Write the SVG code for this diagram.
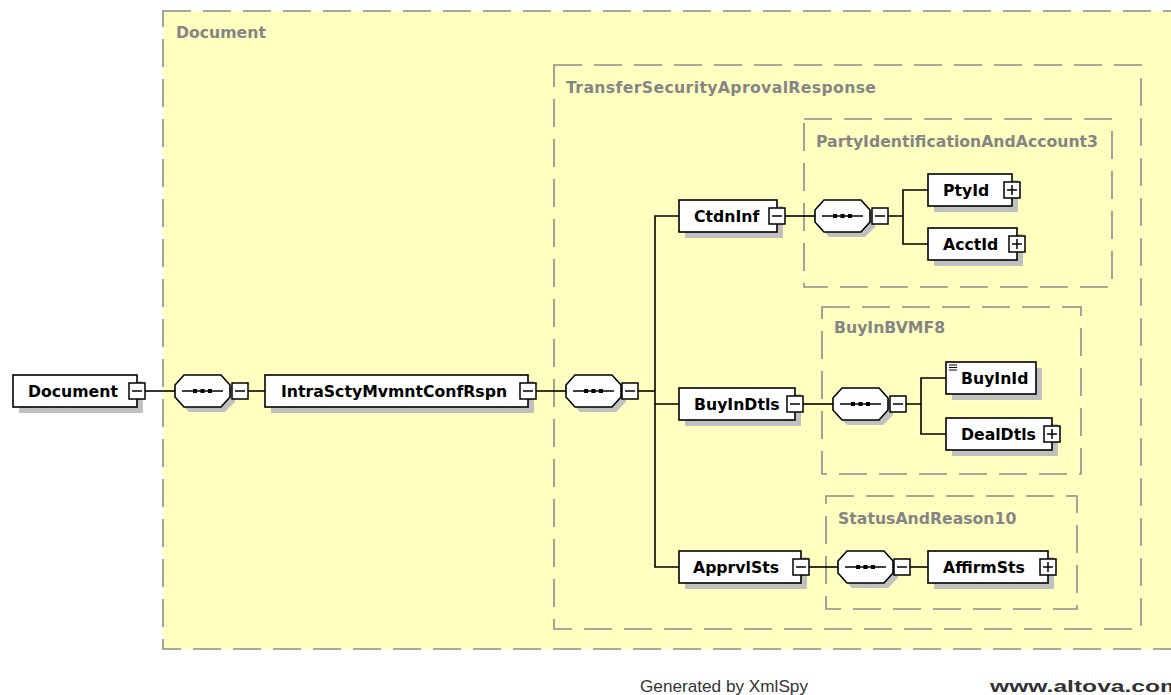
<svg xmlns="http://www.w3.org/2000/svg" xmlns:xlink="http://www.w3.org/1999/xlink" width="1171" height="695" viewBox="0 0 1171 695">
<style>
.cont{fill:#ffffc0;stroke:#8c8c8c;stroke-width:1.6;stroke-dasharray:28 12}
.box{fill:#fff;stroke:#000;stroke-width:1.6}
.shadow{fill:#c0c0c0}
.conn{fill:none;stroke:#000;stroke-width:1.6}
.lbl{font-family:"DejaVu Sans",Verdana,sans-serif;font-weight:bold;font-size:15.7px;fill:#000}
.clbl{font-family:"DejaVu Sans",Verdana,sans-serif;font-weight:bold;font-size:15.7px;fill:#858585}
.foot{font-family:"Liberation Sans",Arial,sans-serif;font-size:17px;fill:#333}
</style>
<defs>
<g id="minus"><rect x="0" y="0" width="16" height="16" fill="#fff" stroke="#000" stroke-width="1.5"/><line x1="3" y1="8" x2="13" y2="8" stroke="#000" stroke-width="1.5"/></g>
<g id="plus"><rect x="0" y="0" width="16" height="16" fill="#fff" stroke="#000" stroke-width="1.5"/><line x1="3" y1="8" x2="13" y2="8" stroke="#000" stroke-width="1.5"/><line x1="8" y1="3" x2="8" y2="13" stroke="#000" stroke-width="1.5"/></g>
<g id="seq">
<polygon class="shadow" points="14,5 50,5 60,15 60,27 50,37 14,37 5,27 5,15"/>
<polygon points="9,0 46,0 55,10 55,22 46,32 9,32 0,22 0,10" fill="#fff" stroke="#000" stroke-width="1.6"/>
<line x1="7" y1="16" x2="48" y2="16" stroke="#000" stroke-width="1.6"/>
<rect x="18" y="14" width="4" height="4" fill="#000"/>
<rect x="25.5" y="14" width="4" height="4" fill="#000"/>
<rect x="33" y="14" width="4" height="4" fill="#000"/>
</g>
</defs>
<rect x="0" y="0" width="1171" height="695" fill="#fff"/>

<g id="containers">
<g id="c-document"><rect class="cont" x="163" y="11" width="1030" height="638"/><text class="clbl" x="176" y="38">Document</text></g>
<g id="c-transfer"><rect class="cont" x="554" y="65" width="587" height="564"/><text class="clbl" x="566" y="93" textLength="310" lengthAdjust="spacing">TransferSecurityAprovalResponse</text></g>
<g id="c-party"><rect class="cont" x="804" y="119" width="308" height="168"/><text class="clbl" x="816" y="147">PartyIdentificationAndAccount3</text></g>
<g id="c-buyin"><rect class="cont" x="822" y="307" width="259" height="167"/><text class="clbl" x="834" y="333">BuyInBVMF8</text></g>
<g id="c-status"><rect class="cont" x="826" y="496" width="251" height="113"/><text class="clbl" x="838" y="524">StatusAndReason10</text></g>
</g>

<g id="connectors">
<line class="conn" x1="145" y1="391" x2="175" y2="391"/>
<line class="conn" x1="248" y1="391" x2="265" y2="391"/>
<line class="conn" x1="536" y1="391" x2="566" y2="391"/>
<line class="conn" x1="638" y1="391" x2="655" y2="391"/>
<path class="conn" d="M679,216 H655 V567 H679 M655,404 H679"/>
<line class="conn" x1="785" y1="216" x2="815" y2="216"/>
<path class="conn" d="M888,216 H903 M928,190 H903 V244 H928"/>
<line class="conn" x1="803" y1="404" x2="833" y2="404"/>
<path class="conn" d="M906,404 H921 M946,378 H921 V434 H946"/>
<line class="conn" x1="809" y1="567" x2="838" y2="567"/>
<line class="conn" x1="910" y1="567" x2="928" y2="567"/>
</g>

<g id="n-document"><rect class="shadow" x="19" y="381" width="124" height="32"/><rect class="box" x="13" y="375" width="124" height="32"/><text class="lbl" x="28" y="397">Document</text><use xlink:href="#minus" x="129" y="383"/></g>
<g id="seq-1"><use xlink:href="#seq" x="175" y="375"/><use xlink:href="#minus" x="232" y="383"/></g>
<g id="n-intra"><rect class="shadow" x="271" y="381" width="263" height="32"/><rect class="box" x="265" y="375" width="263" height="32"/><text class="lbl" x="281" y="397">IntraSctyMvmntConfRspn</text><use xlink:href="#minus" x="520" y="383"/></g>
<g id="seq-2"><use xlink:href="#seq" x="566" y="375"/><use xlink:href="#minus" x="622" y="383"/></g>

<g id="n-ctdninf"><rect class="shadow" x="685" y="206" width="98" height="32"/><rect class="box" x="679" y="200" width="98" height="32"/><text class="lbl" x="694" y="222">CtdnInf</text><use xlink:href="#minus" x="769" y="208"/></g>
<g id="seq-3"><use xlink:href="#seq" x="815" y="200"/><use xlink:href="#minus" x="872" y="208"/></g>
<g id="n-ptyid"><rect class="shadow" x="934" y="180" width="84" height="32"/><rect class="box" x="928" y="174" width="84" height="32"/><text class="lbl" x="943" y="196">PtyId</text><use xlink:href="#plus" x="1004" y="182"/></g>
<g id="n-acctid"><rect class="shadow" x="934" y="234" width="89" height="32"/><rect class="box" x="928" y="228" width="89" height="32"/><text class="lbl" x="943" y="250">AcctId</text><use xlink:href="#plus" x="1009" y="236"/></g>

<g id="n-buyindtls"><rect class="shadow" x="685" y="394" width="116" height="32"/><rect class="box" x="679" y="388" width="116" height="32"/><text class="lbl" x="694" y="410">BuyInDtls</text><use xlink:href="#minus" x="787" y="396"/></g>
<g id="seq-4"><use xlink:href="#seq" x="833" y="388"/><use xlink:href="#minus" x="890" y="396"/></g>
<g id="n-buyinid"><rect class="shadow" x="952" y="368" width="90" height="32"/><rect class="box" x="946" y="362" width="90" height="32"/><path d="M949,365 H957 M949,367.5 H957 M949,370 H957" stroke="#000" stroke-width="1"/><text class="lbl" x="961" y="384">BuyInId</text></g>
<g id="n-dealdtls"><rect class="shadow" x="952" y="424" width="106" height="32"/><rect class="box" x="946" y="418" width="106" height="32"/><text class="lbl" x="961" y="440">DealDtls</text><use xlink:href="#plus" x="1044" y="426"/></g>

<g id="n-apprvlsts"><rect class="shadow" x="685" y="557" width="122" height="32"/><rect class="box" x="679" y="551" width="122" height="32"/><text class="lbl" x="693" y="573">ApprvlSts</text><use xlink:href="#minus" x="793" y="559"/></g>
<g id="seq-5"><use xlink:href="#seq" x="838" y="551"/><use xlink:href="#minus" x="894" y="559"/></g>
<g id="n-affirmsts"><rect class="shadow" x="934" y="557" width="120" height="32"/><rect class="box" x="928" y="551" width="120" height="32"/><text class="lbl" x="943" y="573">AffirmSts</text><use xlink:href="#plus" x="1040" y="559"/></g>

<g id="footer">
<text class="foot" x="640" y="692" textLength="168" lengthAdjust="spacingAndGlyphs">Generated by XmlSpy</text>
<text class="foot" x="990" y="692" font-weight="bold" textLength="192" lengthAdjust="spacingAndGlyphs">www.altova.com</text>
</g>
</svg>
